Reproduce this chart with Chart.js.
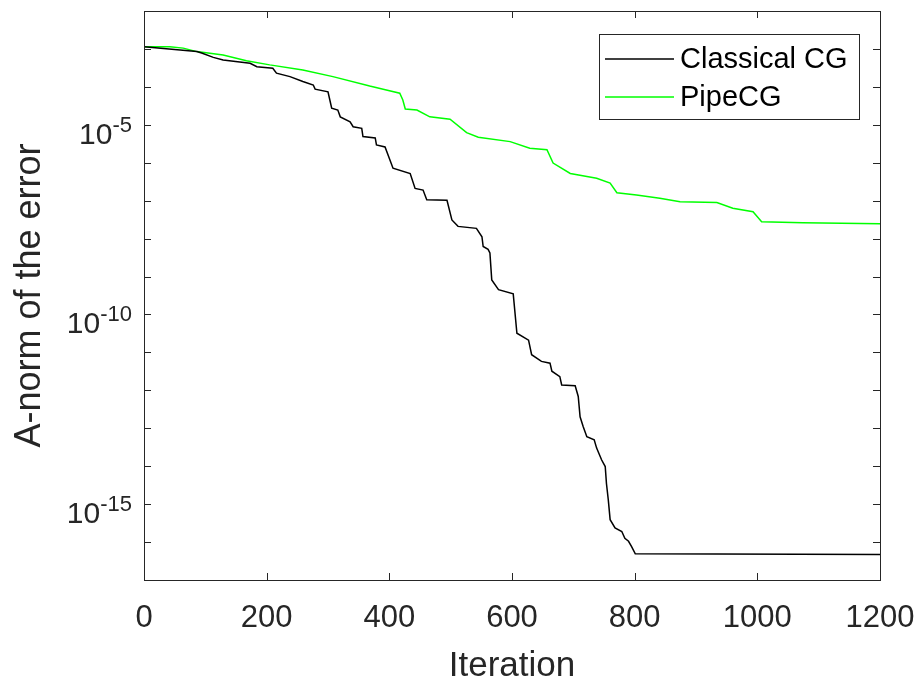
<!DOCTYPE html>
<html>
<head>
<meta charset="utf-8">
<script src="https://cdn.jsdelivr.net/npm/chart.js@4.4.0/dist/chart.umd.min.js"></script>
<style>
  html, body { margin: 0; padding: 0; background: #fff; }
</style>
</head>
<body>
<canvas id="errorChart" width="919" height="680"></canvas>
<script>
// Classical CG (iteration, A-norm of error)
const cgIter = [0, 86, 94, 113, 129, 173, 184, 210, 216, 238, 259, 276, 279, 300, 303, 306, 316, 320,
    336, 341, 355, 357, 377, 379, 393, 406, 434, 442, 455, 461, 494, 502, 512, 542, 551, 553, 561, 564,
    567, 578, 602, 608, 627, 632, 648, 662, 665, 678, 681, 703, 708, 711, 716, 722, 734, 738, 746, 752,
    754, 757, 760, 768, 779, 784, 790, 795, 801, 1200];
const cgErr = [1.15e-3, 8.5e-4, 7.8e-4, 6.0e-4, 5.1e-4, 4.2e-4, 3.4e-4, 3.1e-4, 2.3e-4, 1.86e-4, 1.38e-4,
    1.12e-4, 8.7e-5, 7.4e-5, 4.5e-5, 2.75e-5, 2.45e-5, 1.62e-5, 1.2e-5, 8.9e-6, 8.1e-6, 4.9e-6, 4.5e-6,
    2.95e-6, 2.6e-6, 7.2e-7, 5.2e-7, 2.1e-7, 1.9e-7, 1.05e-7, 1.02e-7, 3.1e-8, 2.1e-8, 1.86e-8, 1.12e-8,
    6.2e-9, 5.2e-9, 4.2e-9, 8.1e-10, 4.5e-10, 3.5e-10, 3.2e-11, 2.1e-11, 8.7e-12, 5.8e-12, 5.2e-12,
    3.2e-12, 2.3e-12, 1.38e-12, 1.32e-12, 6.9e-13, 2.0e-13, 1.12e-13, 6.0e-14, 5.0e-14, 3.0e-14, 1.48e-14,
    9.8e-15, 3.5e-15, 1.29e-15, 3.9e-16, 2.35e-16, 1.9e-16, 1.26e-16, 1.05e-16, 7.6e-17, 4.9e-17, 4.7e-17];

// PipeCG
const pipeIter = [0, 42, 64, 86, 129, 167, 205, 259, 308, 368, 390, 417, 422, 426, 445, 466, 499, 526,
    545, 597, 629, 657, 667, 695, 738, 760, 771, 803, 841, 874, 934, 960, 993, 1007, 1074, 1200];
const pipeErr = [1.15e-3, 1.15e-3, 1.05e-3, 8.5e-4, 6.9e-4, 4.9e-4, 3.8e-4, 2.8e-4, 1.86e-4, 1.05e-4,
    8.7e-5, 6.8e-5, 4.5e-5, 2.6e-5, 2.45e-5, 1.62e-5, 1.41e-5, 6.2e-6, 4.7e-6, 3.6e-6, 2.4e-6, 2.2e-6,
    9.8e-7, 5.2e-7, 3.9e-7, 2.9e-7, 1.62e-7, 1.41e-7, 1.15e-7, 9.3e-8, 8.9e-8, 6.3e-8, 5.1e-8, 2.8e-8,
    2.6e-8, 2.45e-8];

const xTicks = [0, 200, 400, 600, 800, 1000, 1200];
const yDecades = [1e-2, 1e-3, 1e-4, 1e-5, 1e-6, 1e-7, 1e-8, 1e-9, 1e-10, 1e-11, 1e-12, 1e-13, 1e-14,
    1e-15, 1e-16, 1e-17];
const yLabelValues = [1e-5, 1e-10, 1e-15];
const yLabelExps = ['-5', '-10', '-15'];

const FONT = '"Liberation Sans", Arial, Helvetica, sans-serif';
const AXIS_COLOR = '#262626';

function toPoints(xs, ys) {
    return xs.map(function (x, i) { return { x: x, y: ys[i] }; });
}

// MATLAB style box: inward ticks on all four sides, superscript labels, legend in corner
const matlabAxes = {
    id: 'matlabAxes',
    afterDraw: function (chart) {
        const ctx = chart.ctx;
        const area = chart.chartArea;
        const xs = chart.scales.x;
        const ys = chart.scales.y;
        const tl = 7;
        ctx.save();
        ctx.strokeStyle = AXIS_COLOR;
        ctx.lineWidth = 1;
        ctx.strokeRect(area.left + 0.5, area.top + 0.5, area.right - area.left, area.bottom - area.top);

        ctx.beginPath();
        xTicks.forEach(function (v) {
            const px = Math.round(xs.getPixelForValue(v)) + 0.5;
            ctx.moveTo(px, area.bottom);
            ctx.lineTo(px, area.bottom - tl);
            ctx.moveTo(px, area.top);
            ctx.lineTo(px, area.top + tl);
        });
        yDecades.forEach(function (v) {
            const py = Math.round(ys.getPixelForValue(v)) + 0.5;
            ctx.moveTo(area.left, py);
            ctx.lineTo(area.left + tl, py);
            ctx.moveTo(area.right, py);
            ctx.lineTo(area.right - tl, py);
        });
        ctx.stroke();

        // y tick labels: 10 with raised exponent
        ctx.fillStyle = AXIS_COLOR;
        ctx.textAlign = 'right';
        ctx.textBaseline = 'alphabetic';
        yLabelValues.forEach(function (v, i) {
            const py = ys.getPixelForValue(v);
            const right = area.left - 12;
            ctx.font = '22px ' + FONT;
            ctx.fillText(yLabelExps[i], right, py + 7);
            const ew = ctx.measureText(yLabelExps[i]).width;
            ctx.font = '30px ' + FONT;
            ctx.fillText('10', right - ew, py + 19);
        });

        // legend
        const boxRight = area.right - 21;
        const boxLeft = boxRight - 260;
        const boxTop = area.top + 23;
        const boxH = 85;
        ctx.fillStyle = '#fff';
        ctx.fillRect(boxLeft, boxTop, boxRight - boxLeft, boxH);
        ctx.strokeStyle = AXIS_COLOR;
        ctx.strokeRect(boxLeft + 0.5, boxTop + 0.5, boxRight - boxLeft, boxH);
        ctx.font = '29px ' + FONT;
        ctx.textAlign = 'left';
        ctx.textBaseline = 'middle';
        chart.data.datasets.forEach(function (ds, i) {
            const cy = boxTop + 25 + i * 38;
            ctx.strokeStyle = ds.borderColor;
            ctx.lineWidth = 1.5;
            ctx.beginPath();
            ctx.moveTo(boxLeft + 6, cy);
            ctx.lineTo(boxLeft + 75, cy);
            ctx.stroke();
            ctx.fillStyle = '#000';
            ctx.fillText(ds.label, boxLeft + 81, cy + 1);
        });
        ctx.restore();
    }
};

const ctx = document.getElementById('errorChart').getContext('2d');
new Chart(ctx, {
    type: 'line',
    data: {
        datasets: [{
            label: 'Classical CG',
            data: toPoints(cgIter, cgErr),
            borderColor: '#000000',
            borderWidth: 1.5,
            pointRadius: 0,
            tension: 0,
            fill: false
        }, {
            label: 'PipeCG',
            data: toPoints(pipeIter, pipeErr),
            borderColor: '#00ff00',
            borderWidth: 1.5,
            pointRadius: 0,
            tension: 0,
            fill: false
        }]
    },
    options: {
        responsive: false,
        animation: false,
        devicePixelRatio: 1,
        layout: { padding: { left: 0, right: 39, top: 11, bottom: 0 } },
        plugins: {
            legend: { display: false },
            tooltip: { enabled: false }
        },
        scales: {
            x: {
                type: 'linear',
                min: 0,
                max: 1200,
                afterBuildTicks: function (scale) {
                    scale.ticks = xTicks.map(function (v) { return { value: v }; });
                },
                afterFit: function (scale) {
                    scale.height = 100;
                    scale.paddingLeft = 0;
                    scale.paddingRight = 0;
                },
                grid: { display: false, drawTicks: false },
                border: { display: false },
                ticks: {
                    color: AXIS_COLOR,
                    font: { family: FONT, size: 31 },
                    padding: 20,
                    maxRotation: 0,
                    autoSkip: false,
                    callback: function (v) { return String(v); }
                },
                title: {
                    display: true,
                    text: 'Iteration',
                    color: AXIS_COLOR,
                    font: { family: FONT, size: 35 },
                    padding: { top: 0, bottom: -7 }
                }
            },
            y: {
                type: 'logarithmic',
                min: 1e-17,
                max: 1e-2,
                afterBuildTicks: function (scale) {
                    scale.ticks = yDecades.map(function (v) { return { value: v }; });
                },
                afterFit: function (scale) {
                    scale.width = 144;
                    scale.paddingTop = 0;
                    scale.paddingBottom = 0;
                },
                grid: { display: false, drawTicks: false },
                border: { display: false },
                ticks: { display: false },
                title: {
                    display: true,
                    text: 'A-norm of the error',
                    color: AXIS_COLOR,
                    font: { family: FONT, size: 36 },
                    padding: { top: 8, bottom: 0 }
                }
            }
        }
    },
    plugins: [matlabAxes]
});
</script>
</body>
</html>
